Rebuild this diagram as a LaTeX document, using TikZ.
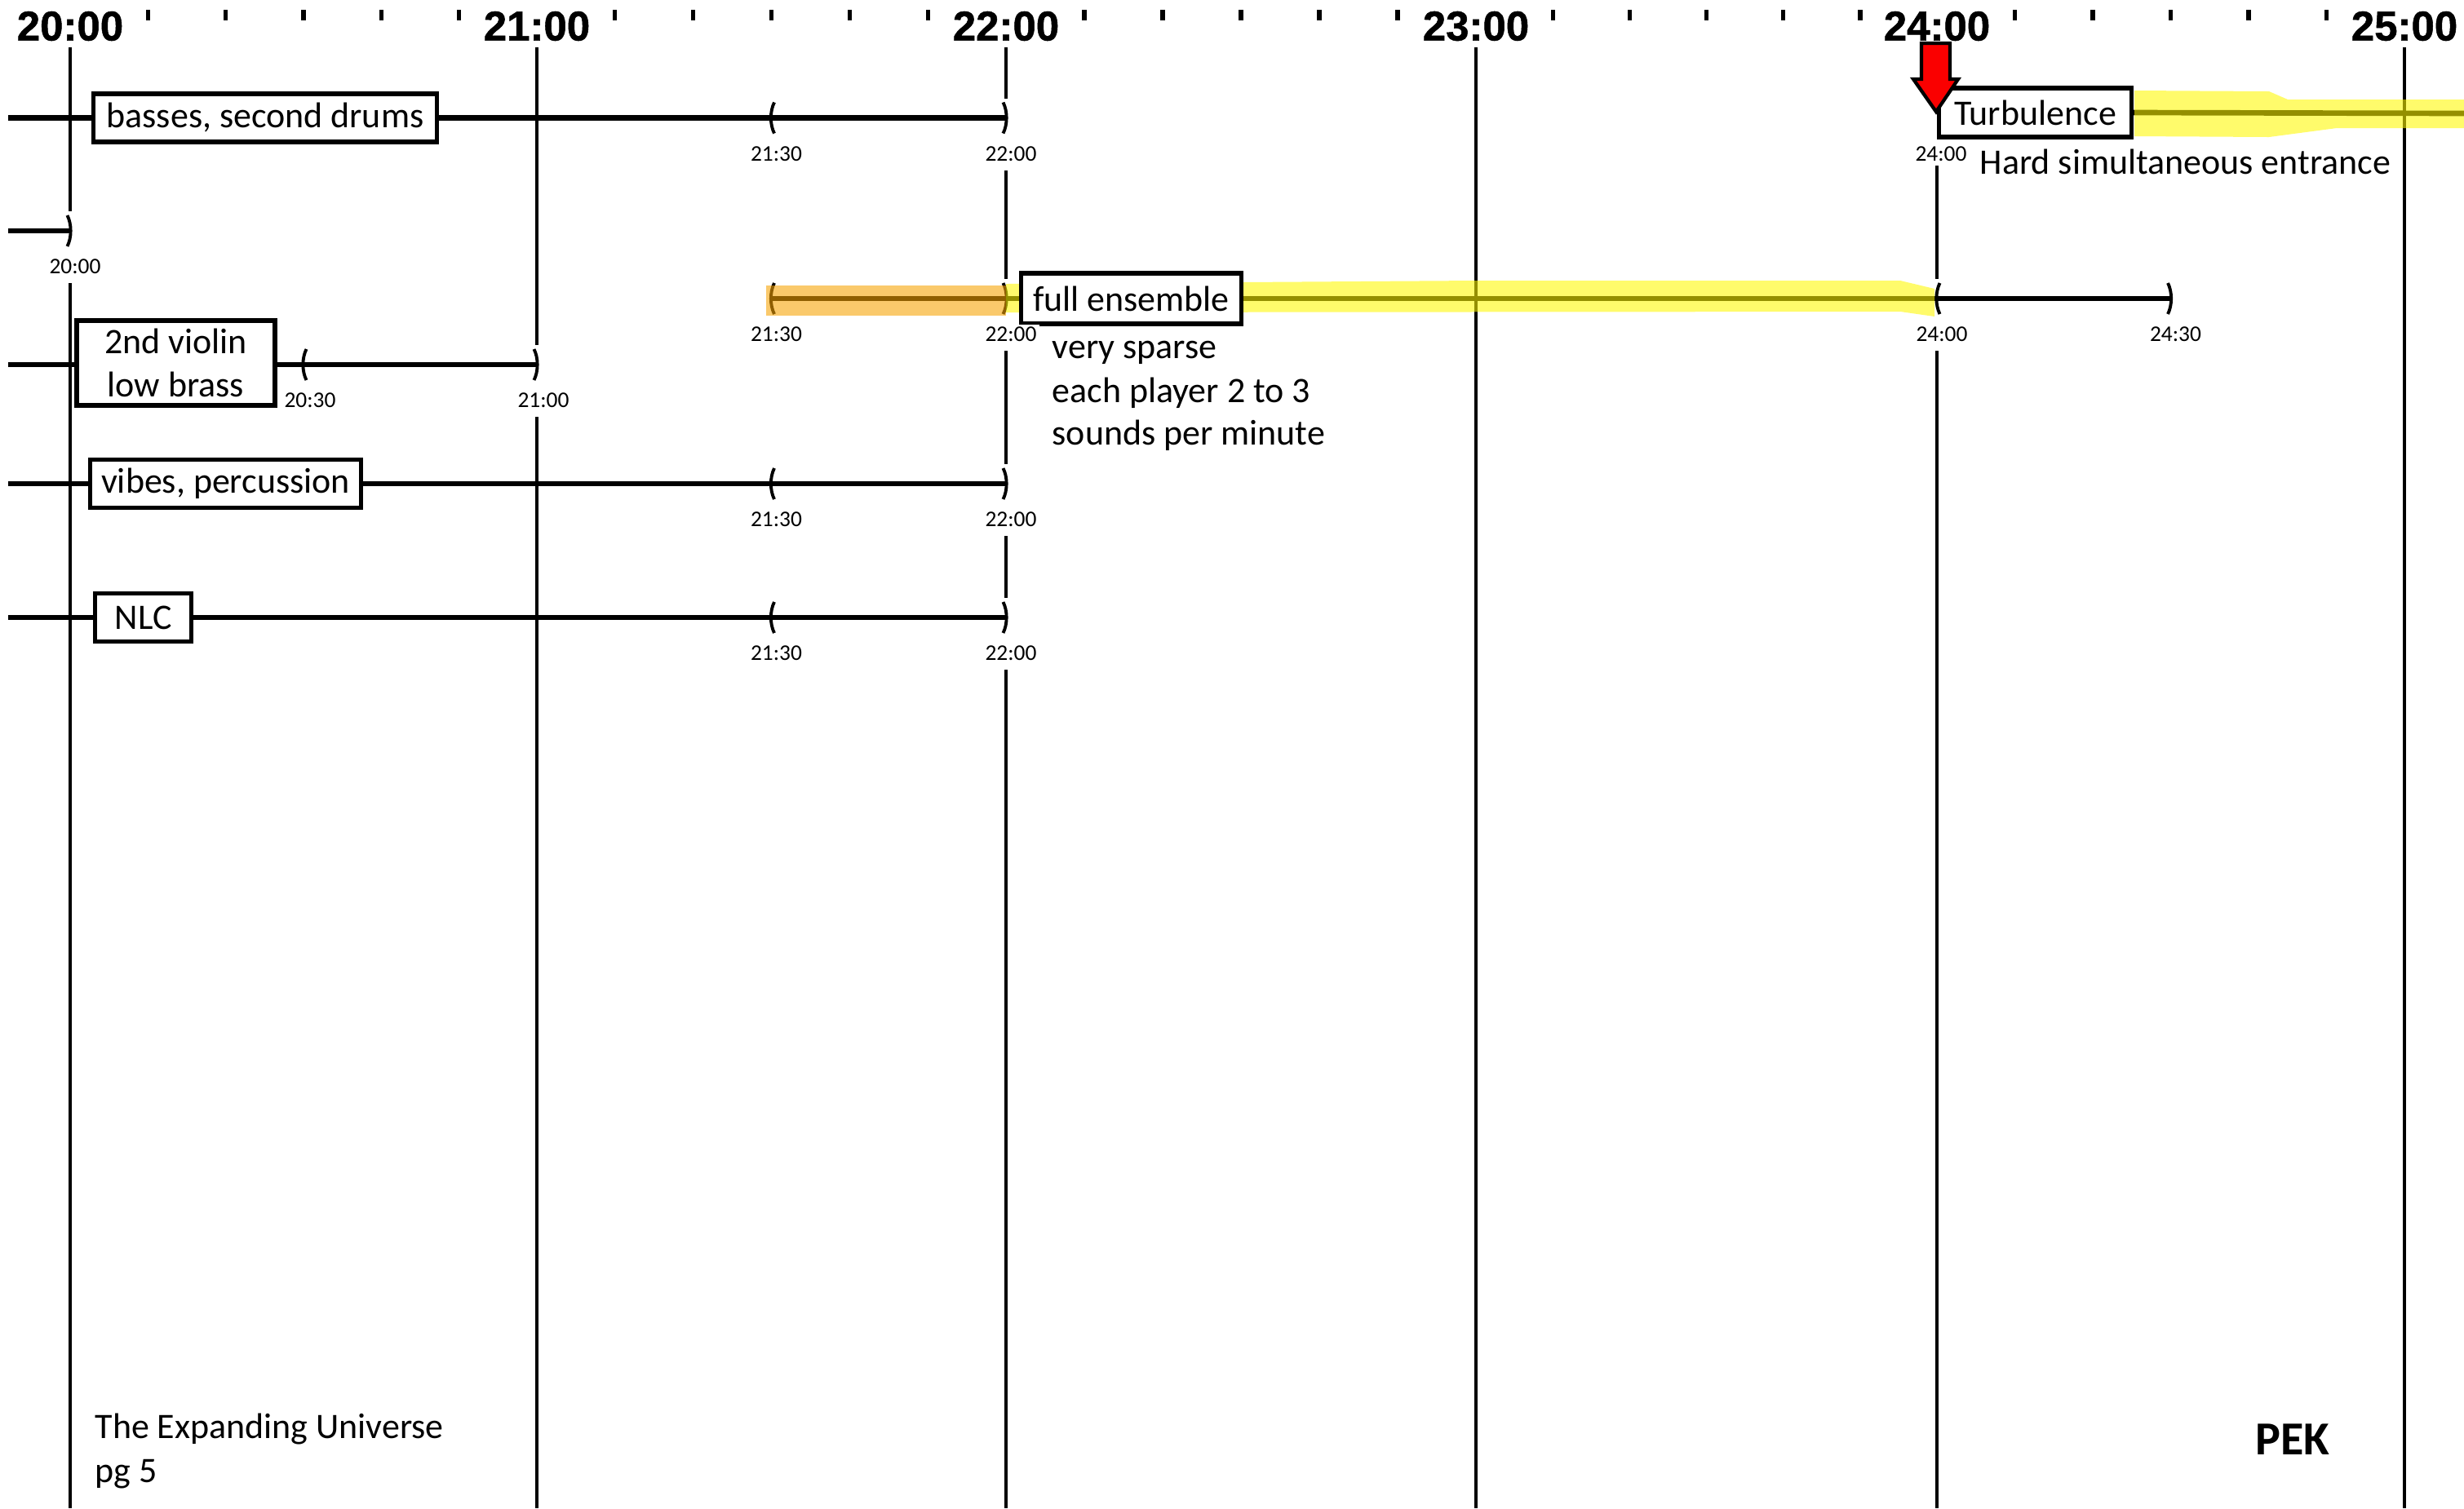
\documentclass[tikz,border=0pt]{standalone}
\usepackage{fontspec}
\setmainfont{Carlito}
\newfontfamily\hourfont[FakeBold=1]{Liberation Sans}
\usetikzlibrary{calc,positioning}

\definecolor{hlyellow}{RGB}{255,248,0}
\definecolor{hlorange}{RGB}{247,162,0}
\definecolor{arrowred}{RGB}{250,0,0}

\tikzset{
  hour/.style={font=\hourfont\bfseries\fontsize{14.5}{16}\selectfont, inner sep=0pt},
  minortick/.style={line width=1.5pt},
  hourline/.style={line width=1.2pt},
  rowline/.style={line width=1.9pt},
  brk/.style={line width=1.1pt},
  box/.style={draw, fill=white, line width=1.45pt, inner sep=0pt, minimum height=0.59cm,
    font=\fontsize{12.5}{15}\selectfont},
  tlab/.style={font=\fontsize{7.8}{9}\selectfont, inner sep=1pt, fill=white},
  note/.style={font=\fontsize{12.5}{15}\selectfont, inner sep=0pt, anchor=base west},
  hilite/.style={opacity=0.58},
  openbr/.pic={\draw[brk] (0.035,0.19) .. controls (-0.02,0.08) and (-0.02,-0.08) .. (0.035,-0.19);},
  closebr/.pic={\draw[brk] (-0.035,0.19) .. controls (0.02,0.08) and (0.02,-0.08) .. (-0.035,-0.19);},
}

\begin{document}
\begin{tikzpicture}
    \useasboundingbox (0,0) rectangle (30.20,-18.49);

    % time axis
    \node[hour] (h20) at (0.86,-0.32)  {20:00};
    \node[hour] (h21) at (6.58,-0.32)  {21:00};
    \node[hour] (h22) at (12.33,-0.32) {22:00};
    \node[hour] (h23) at (18.09,-0.32) {23:00};
    \node[hour] (h24) at (23.74,-0.32) {24:00};
    \node[hour] (h25) at (29.47,-0.32) {25:00};

    \coordinate (bot)   at (0,-18.49);
    \coordinate (m2030) at ($(h20)!0.5!(h21)$);
    \coordinate (m2130) at ($(h21)!0.5!(h22)$);
    \coordinate (m2430) at ($(h24)!0.5!(h25)$);

    \foreach \a/\b in {h20/h21, h21/h22, h22/h23, h23/h24, h24/h25}
      \foreach \k in {1,...,5}
        \draw[minortick] ($(\a)!\k/6!(\b)+(0,0.20)$) -- ($(\a)!\k/6!(\b)+(0,0.07)$);

    \draw[hourline] ($(h20)+(0,-0.26)$) -- (h20 |- bot);
    \draw[hourline] ($(h21)+(0,-0.26)$) -- (h21 |- bot);
    \draw[hourline] ($(h22)+(0,-0.26)$) -- (h22 |- bot);
    \draw[hourline] ($(h23)+(0,-0.26)$) -- (h23 |- bot);
    \draw[hourline] ($(h24)+(0,-0.26)$) -- (h24 |- bot);
    \draw[hourline] ($(h25)+(0,-0.26)$) -- (h25 |- bot);

    % rows
    \coordinate (r1) at (0.10,-1.445);
    \coordinate (r2) at (0.10,-2.83);
    \coordinate (r3) at (0.10,-3.66);
    \coordinate (r4) at (0.10,-4.47);
    \coordinate (r5) at (0.10,-5.93);
    \coordinate (r6) at (0.10,-7.57);
    \coordinate (rt) at (30.20,-1.39);

    \foreach \p in {h20 |- r2, h21 |- r4, h22 |- r1, h22 |- r3, h22 |- r5, h22 |- r6, h24 |- r3, h24 |- rt}
      \fill[white] ($(\p)+(-0.07,0.24)$) rectangle ($(\p)+(0.07,-0.64)$);

    % basses, second drums
    \draw[rowline] (r1) -- (h22 |- r1);
    \pic at (m2130 |- r1) {openbr};
    \pic at (h22 |- r1) {closebr};
    \node[box, minimum width=4.21cm, anchor=west] (basses) at ($(r1)+(1.02,0)$) {basses, second drums};
    \node[tlab] (b2130) at ($(m2130 |- r1)+(0.06,-0.44)$) {21:30};
    \node[tlab] (b2200) at ($(h22 |- r1)+(0.06,-0.44)$) {22:00};

    \draw[rowline] (r2) -- (h20 |- r2);
    \pic at (h20 |- r2) {closebr};
    \node[tlab] (s2000) at ($(h20 |- r2)+(0.06,-0.44)$) {20:00};

    % full ensemble
    \draw[rowline] (m2130 |- r3) -- (h24 |- r3) -- (m2430 |- r3);
    \pic at (m2130 |- r3) {openbr};
    \pic at (h22 |- r3) {closebr};
    \pic at (h24 |- r3) {openbr};
    \pic at (m2430 |- r3) {closebr};
    \fill[hlorange, hilite] ($(m2130 |- r3)+(-0.07,0.16)$) rectangle ($(h22 |- r3)+(0,-0.21)$);
    \fill[hlyellow, hilite] ($(h22 |- r3)+(0,0.18)$) -- ($(h23 |- r3)+(0,0.22)$) -- ($(h24 |- r3)+(-0.45,0.22)$)
        -- ($(h24 |- r3)+(-0.03,0.12)$) -- ($(h24 |- r3)+(-0.03,-0.22)$) -- ($(h24 |- r3)+(-0.45,-0.16)$)
        -- ($(h22 |- r3)+(0,-0.17)$) -- cycle;
    \node[box, minimum width=2.70cm, minimum height=0.62cm, anchor=west] (full) at ($(h22 |- r3)+(0.16,0)$) {full ensemble};
    \node[tlab] (f2130) at ($(m2130 |- r3)+(0.06,-0.44)$) {21:30};
    \node[tlab] (f2200) at ($(h22 |- r3)+(0.06,-0.44)$) {22:00};
    \node[tlab] (f2400) at ($(h24 |- r3)+(0.06,-0.44)$) {24:00};
    \node[tlab] (f2430) at ($(m2430 |- r3)+(0.06,-0.44)$) {24:30};
    \node[note] (sparse) at ($(h22 |- r3)+(0.56,-0.73)$) {very sparse};
    \node[note] (player) at ($(sparse.base west)+(0,-0.54)$) {each player 2 to 3};
    \node[note] (minute) at ($(player.base west)+(0,-0.52)$) {sounds per minute};

    % 2nd violin, low brass
    \draw[rowline] (r4) -- (h21 |- r4);
    \pic at (m2030 |- r4) {openbr};
    \pic at (h21 |- r4) {closebr};
    \node[box, align=center, minimum width=2.43cm, minimum height=1.04cm] (violin) at ($(h20 |- r4)+(1.295,0.02)$) {2nd violin\\low brass};
    \node[tlab] (v2030) at ($(m2030 |- r4)+(0.08,-0.44)$) {20:30};
    \node[tlab] (v2100) at ($(h21 |- r4)+(0.08,-0.44)$) {21:00};

    % vibes, percussion
    \draw[rowline] (r5) -- (h22 |- r5);
    \pic at (m2130 |- r5) {openbr};
    \pic at (h22 |- r5) {closebr};
    \node[box, minimum width=3.32cm, anchor=west] (vibes) at ($(r5)+(0.98,0)$) {vibes, percussion};
    \node[tlab] (p2130) at ($(m2130 |- r5)+(0.06,-0.44)$) {21:30};
    \node[tlab] (p2200) at ($(h22 |- r5)+(0.06,-0.44)$) {22:00};

    % NLC
    \draw[rowline] (r6) -- (h22 |- r6);
    \pic at (m2130 |- r6) {openbr};
    \pic at (h22 |- r6) {closebr};
    \node[box, minimum width=1.18cm, anchor=west] (nlc) at ($(r6)+(1.04,0)$) {NLC};
    \node[tlab] (n2130) at ($(m2130 |- r6)+(0.06,-0.44)$) {21:30};
    \node[tlab] (n2200) at ($(h22 |- r6)+(0.06,-0.44)$) {22:00};

    % Turbulence
    \node[box, minimum width=2.36cm, minimum height=0.60cm, anchor=west] (turb) at ($(h24 |- rt)+(0,0.01)$) {Turbulence};
    \draw[rowline] (turb.east) -- (rt);
    \fill[hlyellow, hilite] ($(turb.east)+(0.01,0.27)$) -- ($(h24 |- rt)+(4.07,0.27)$) -- ($(h24 |- rt)+(4.30,0.17)$)
        -- ($(rt)+(0,0.17)$) -- ($(rt)+(0,-0.18)$) -- ($(h24 |- rt)+(4.90,-0.18)$)
        -- ($(h24 |- rt)+(4.07,-0.29)$) -- ($(turb.east)+(0.01,-0.29)$) -- cycle;
    \node[tlab] (t2400) at ($(h24 |- rt)+(0.05,-0.50)$) {24:00};
    \node[note] (hard) at ($(h24 |- rt)+(0.52,-0.74)$) {Hard simultaneous entrance};
    \draw[fill=arrowred, line width=1.2pt, line join=miter]
        (23.55,-0.53) -- (23.90,-0.53) -- (23.90,-0.97) -- (24.00,-0.97) -- (23.73,-1.37)
        -- (23.45,-0.97) -- (23.55,-0.97) -- cycle;

    % footer
    \node[note] (title) at (1.16,-17.63) {The Expanding Universe};
    \node[note] (page)  at (1.16,-18.17) {pg 5};
    \node[font=\bfseries\fontsize{16.5}{18}\selectfont, anchor=base, inner sep=0pt] (pek) at (28.10,-17.83) {PEK};

\end{tikzpicture}
\end{document}
